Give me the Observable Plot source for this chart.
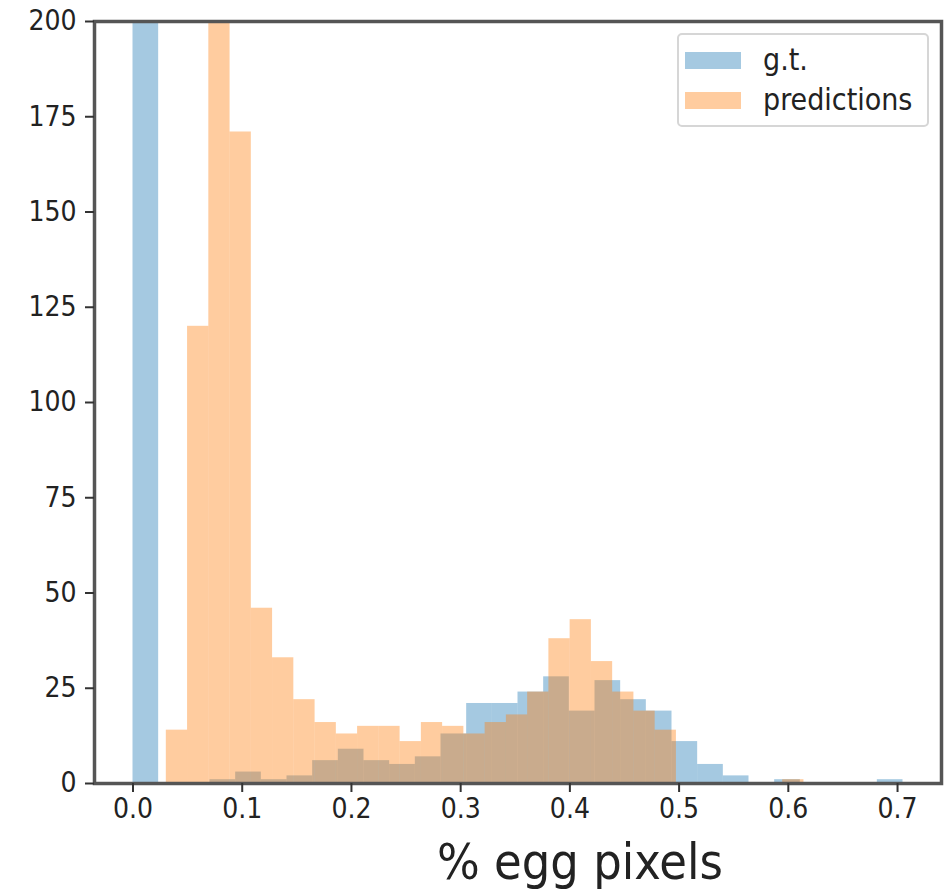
<!DOCTYPE html>
<html>
<head>
<meta charset="utf-8">
<script src="https://cdn.jsdelivr.net/npm/d3@7"></script>
<script src="https://cdn.jsdelivr.net/npm/@observablehq/plot@0.6"></script>
<style>
  html, body { margin: 0; padding: 0; background: #fff; }
  #wrap { position: relative; width: 948px; height: 890px; overflow: hidden; font-family: "DejaVu Sans Condensed", "DejaVu Sans", sans-serif; }
  #wrap svg { font-family: "DejaVu Sans Condensed", "DejaVu Sans", sans-serif; }
  .xlabel { position: absolute; left: 437px; top: 833px; font-size: 50px; line-height: normal; color: #222; white-space: nowrap; }
  .legend { position: absolute; left: 677px; top: 33px; width: 252px; height: 94px; border: 2px solid #d6d6d6; border-radius: 5px; box-sizing: border-box; background: rgba(255,255,255,0.8); }
  .legend .row { position: absolute; left: 0; height: 30px; display: flex; align-items: center; }
  .legend .sw { width: 56px; height: 17px; margin-left: 6px; margin-right: 22px; }
  .legend .lab { font-size: 30px; color: #222; line-height: 30px; }
</style>
</head>
<body>
<div id="wrap"></div>
<script>
// Histogram of ground truth (g.t.): 30 bins starting at 0, width 0.0235
const gtStart = 0;
const gtWidth = 0.0235;
const gtCounts = [600, 0, 0, 1, 3, 1, 2, 6, 9, 6, 5, 7, 13, 21, 21, 24, 28, 19, 27, 22, 19, 11, 5, 2, 0, 1, 0, 0, 0, 1];

// Histogram of predictions: 30 bins starting at 0.0305, width 0.01946
const predStart = 0.0305;
const predWidth = 0.01946;
const predCounts = [14, 120, 250, 171, 46, 33, 22, 16, 13, 15, 15, 11, 16, 15, 13, 16, 18, 24, 38, 43, 32, 24, 19, 14, 0, 0, 0, 0, 0, 1];

const xTicks = [0.0, 0.1, 0.2, 0.3, 0.4, 0.5, 0.6, 0.7];
const yTicks = [0, 25, 50, 75, 100, 125, 150, 175, 200];
const xLabel = "% egg pixels";
const seriesNames = ["g.t.", "predictions"];
const seriesColors = ["#1f77b4", "#ff7f0e"];

const gtBins = gtCounts.map((c, i) => ({x1: gtStart + i * gtWidth, x2: gtStart + (i + 1) * gtWidth, count: c}));
const predBins = predCounts.map((c, i) => ({x1: predStart + i * predWidth, x2: predStart + (i + 1) * predWidth, count: c}));

const chart = Plot.plot({
  width: 948,
  height: 890,
  marginLeft: 94,
  marginRight: 7,
  marginTop: 21,
  marginBottom: 107,
  style: {background: "#fff", color: "#222", fontSize: "28px"},
  x: {domain: [-0.03525, 0.74025]},
  y: {domain: [0, 200]},
  marks: [
    Plot.rect(gtBins, {x1: "x1", x2: "x2", y1: 0, y2: "count", fill: seriesColors[0], fillOpacity: 0.4, clip: true}),
    Plot.rect(predBins, {x1: "x1", x2: "x2", y1: 0, y2: "count", fill: seriesColors[1], fillOpacity: 0.4, clip: true}),
    Plot.frame({stroke: "#555", strokeWidth: 3.5}),
    Plot.axisX({ticks: xTicks, tickFormat: d3.format(".1f"), tickSize: 9, tickPadding: 6, stroke: "#333", strokeWidth: 2, fontSize: 28, label: null}),
    Plot.axisY({ticks: yTicks, tickFormat: d3.format("d"), tickSize: 9, tickPadding: 9, stroke: "#333", strokeWidth: 2, fontSize: 28, label: null})
  ]
});

const wrap = document.getElementById("wrap");
wrap.appendChild(chart);

const xl = document.createElement("div");
xl.className = "xlabel";
xl.textContent = xLabel;
wrap.appendChild(xl);

const legend = document.createElement("div");
legend.className = "legend";
seriesNames.forEach((name, i) => {
  const row = document.createElement("div");
  row.className = "row";
  row.style.top = (i === 0 ? 10 : 50) + "px";
  const sw = document.createElement("div");
  sw.className = "sw";
  sw.style.background = seriesColors[i];
  sw.style.opacity = 0.4;
  const lab = document.createElement("span");
  lab.className = "lab";
  lab.textContent = name;
  row.appendChild(sw);
  row.appendChild(lab);
  legend.appendChild(row);
});
wrap.appendChild(legend);
</script>
</body>
</html>
